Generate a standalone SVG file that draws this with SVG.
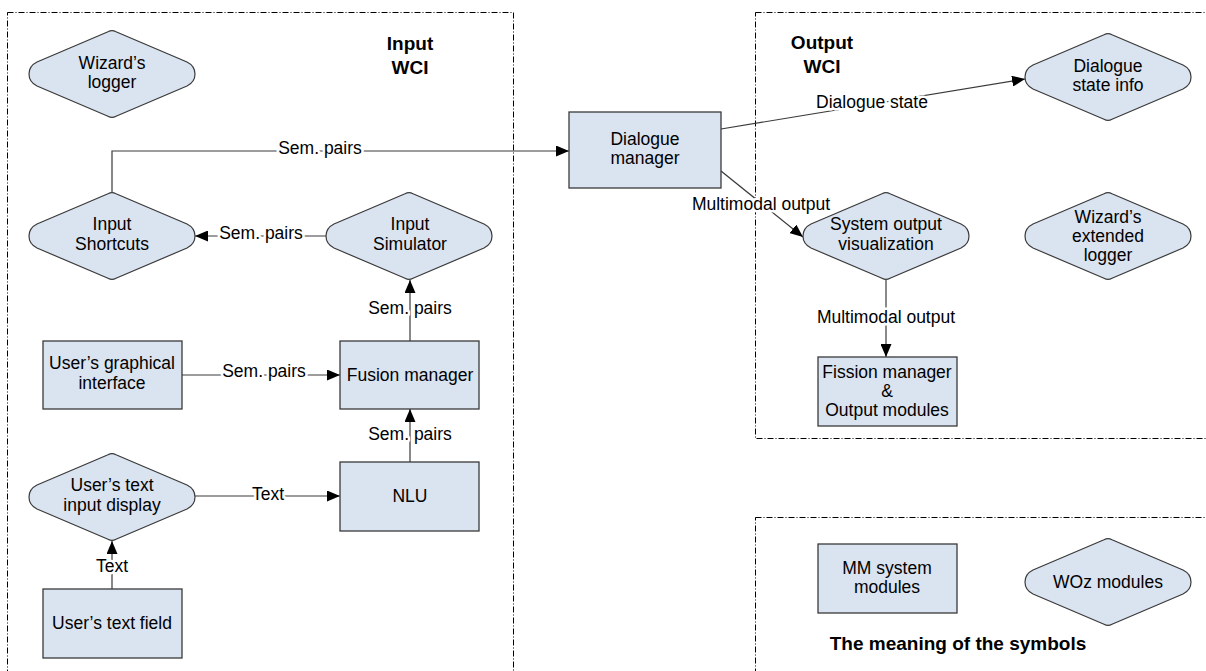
<svg xmlns="http://www.w3.org/2000/svg" xmlns:xlink="http://www.w3.org/1999/xlink" width="1206" height="671" viewBox="0 0 1206 671">
<style>
.frame{fill:none;stroke:#000;stroke-width:1;stroke-dasharray:6,2,1,2}
.box{fill:#dae3f0;stroke:#3a3a3a;stroke-width:1.3}
.hex{fill:#dae3f0;stroke:#3a3a3a;stroke-width:1.2}
.t{font-family:"Liberation Sans",Arial,sans-serif;font-size:17.5px;fill:#000;text-anchor:middle}
.title{font-family:"Liberation Sans",Arial,sans-serif;font-size:19px;font-weight:bold;fill:#000;text-anchor:middle}
.lbl{font-family:"Liberation Sans",Arial,sans-serif;font-size:17.5px;fill:#000;text-anchor:middle;stroke:#fff;stroke-width:5;paint-order:stroke;stroke-linejoin:round}
.c{fill:none;stroke:#3a3a3a;stroke-width:1.2}
</style>
<defs>
<marker id="arr" markerWidth="13" markerHeight="11" refX="13" refY="5.5" orient="auto" markerUnits="userSpaceOnUse">
<path d="M0,0 L13,5.5 L0,11 Z" fill="#000"/>
</marker>
<path id="hexshape" d="M-4,-42.3 Q0,-44.5 4,-42.3 L75,-12 Q83,-8 83,0 Q83,8 75,12 L4,42.3 Q0,44.5 -4,42.3 L-75,12 Q-83,8 -83,0 Q-83,-8 -75,-12 Z"/>
</defs>

<g id="frames">
<rect class="frame" x="7.5" y="12.5" width="506" height="700"/>
<rect class="frame" x="755.5" y="12.5" width="500" height="426"/>
<rect class="frame" x="755.5" y="517.5" width="500" height="200"/>
</g>

<g id="titles">
<text class="title" x="410" y="50">Input</text>
<text class="title" x="410" y="74">WCI</text>
<text class="title" x="822" y="49">Output</text>
<text class="title" x="822" y="73">WCI</text>
<text class="title" x="958" y="650">The meaning of the symbols</text>
</g>

<g id="connectors">
<polyline class="c" points="112,192 112,151 569,151" marker-end="url(#arr)"/>
<line class="c" x1="326" y1="236" x2="195" y2="236" marker-end="url(#arr)"/>
<line class="c" x1="410" y1="341" x2="410" y2="280" marker-end="url(#arr)"/>
<line class="c" x1="182" y1="375" x2="340" y2="375" marker-end="url(#arr)"/>
<line class="c" x1="410" y1="462" x2="410" y2="409" marker-end="url(#arr)"/>
<line class="c" x1="195" y1="496" x2="340" y2="496" marker-end="url(#arr)"/>
<line class="c" x1="112" y1="589" x2="112" y2="541" marker-end="url(#arr)"/>
<line class="c" x1="721" y1="129" x2="1025" y2="79" marker-end="url(#arr)"/>
<line class="c" x1="721" y1="171" x2="803" y2="237" marker-end="url(#arr)"/>
<line class="c" x1="886" y1="280" x2="886" y2="357" marker-end="url(#arr)"/>
<text class="lbl" x="320" y="154">Sem. pairs</text>
<text class="lbl" x="261" y="239">Sem. pairs</text>
<text class="lbl" x="410" y="314">Sem. pairs</text>
<text class="lbl" x="264" y="377">Sem. pairs</text>
<text class="lbl" x="410" y="440">Sem. pairs</text>
<text class="lbl" x="268" y="500">Text</text>
<text class="lbl" x="112" y="572">Text</text>
<text class="lbl" x="872" y="108">Dialogue state</text>
<text class="lbl" x="761" y="210">Multimodal output</text>
<text class="lbl" x="886" y="323">Multimodal output</text>
</g>

<g id="wizards-logger">
<use xlink:href="#hexshape" class="hex" x="112" y="74"/>
<text class="t" x="112" y="69">Wizard’s</text>
<text class="t" x="112" y="88">logger</text>
</g>
<g id="input-shortcuts">
<use xlink:href="#hexshape" class="hex" x="112" y="236"/>
<text class="t" x="112" y="230">Input</text>
<text class="t" x="112" y="250">Shortcuts</text>
</g>
<g id="input-simulator">
<use xlink:href="#hexshape" class="hex" x="409" y="236"/>
<text class="t" x="410" y="230">Input</text>
<text class="t" x="410" y="250">Simulator</text>
</g>
<g id="users-graphical-interface">
<rect class="box" x="43" y="341" width="139" height="68"/>
<text class="t" x="112" y="369">User’s graphical</text>
<text class="t" x="112" y="389">interface</text>
</g>
<g id="fusion-manager">
<rect class="box" x="340" y="341" width="139" height="68"/>
<text class="t" x="410" y="381">Fusion manager</text>
</g>
<g id="users-text-input-display">
<use xlink:href="#hexshape" class="hex" x="112" y="497"/>
<text class="t" x="112" y="491">User’s text</text>
<text class="t" x="112" y="511">input display</text>
</g>
<g id="nlu">
<rect class="box" x="340" y="462" width="139" height="69"/>
<text class="t" x="410" y="502">NLU</text>
</g>
<g id="users-text-field">
<rect class="box" x="43" y="589" width="139" height="69"/>
<text class="t" x="112" y="629">User’s text field</text>
</g>
<g id="dialogue-manager">
<rect class="box" x="569" y="112" width="152" height="76"/>
<text class="t" x="645" y="145">Dialogue</text>
<text class="t" x="645" y="164">manager</text>
</g>
<g id="dialogue-state-info">
<use xlink:href="#hexshape" class="hex" x="1108" y="77"/>
<text class="t" x="1108" y="72">Dialogue</text>
<text class="t" x="1108" y="91">state info</text>
</g>
<g id="system-output-visualization">
<use xlink:href="#hexshape" class="hex" x="886" y="236"/>
<text class="t" x="886" y="230">System output</text>
<text class="t" x="886" y="250">visualization</text>
</g>
<g id="wizards-extended-logger">
<use xlink:href="#hexshape" class="hex" x="1108" y="236"/>
<text class="t" x="1108" y="223">Wizard’s</text>
<text class="t" x="1108" y="242">extended</text>
<text class="t" x="1108" y="261">logger</text>
</g>
<g id="fission-manager">
<rect class="box" x="818" y="357" width="139" height="69"/>
<text class="t" x="887" y="378">Fission manager</text>
<text class="t" x="887" y="397">&amp;</text>
<text class="t" x="887" y="416">Output modules</text>
</g>
<g id="mm-system-modules">
<rect class="box" x="818" y="544" width="139" height="69"/>
<text class="t" x="887" y="574">MM system</text>
<text class="t" x="887" y="593">modules</text>
</g>
<g id="woz-modules">
<use xlink:href="#hexshape" class="hex" x="1108" y="582"/>
<text class="t" x="1108" y="588">WOz modules</text>
</g>
</svg>
